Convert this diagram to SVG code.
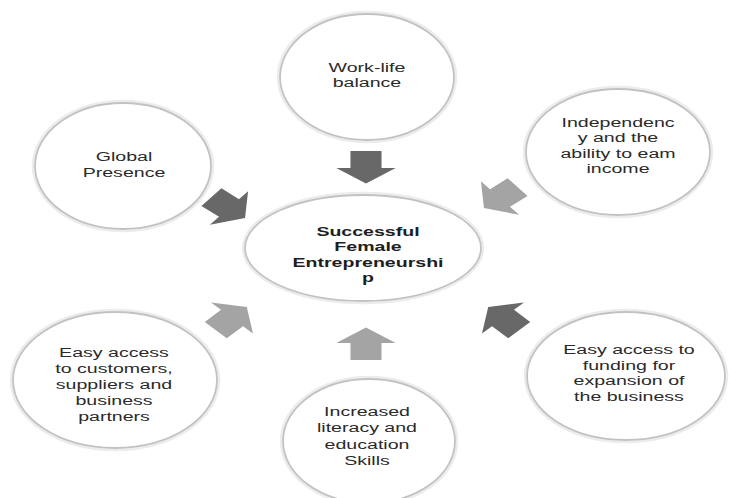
<svg xmlns="http://www.w3.org/2000/svg" width="729" height="498" viewBox="0 0 729 498">
<style>
.halo{fill:none;stroke:#ececec;stroke-width:2.5}
.ring{fill:#fff;stroke:#c2c2c2;stroke-width:1.8}
.t{font-family:"Liberation Sans",Arial,sans-serif;font-size:13.5px;fill:#2a2a2a;text-anchor:middle}
.b{font-weight:bold;fill:#1e1e1e}
.dark{fill:#686868}
.light{fill:#a4a4a4}
</style>
<defs>
<path id="arr" d="M-17,-11.5 L0,-11.5 L0,-22 L15.5,0 L0,22 L0,11.5 L-17,11.5 Z"/>
</defs>
<rect width="729" height="498" fill="#fff"/>
<g id="connectors">
<use href="#arr" class="dark" transform="translate(366,168) scale(1.35,1) rotate(90)"/>
<use href="#arr" class="light" transform="translate(366,343) scale(1.35,1) rotate(-90)"/>
<use href="#arr" class="dark" transform="translate(229,208) scale(1.35,1) rotate(40)"/>
<use href="#arr" class="light" transform="translate(500,198) scale(1.35,1) rotate(140)"/>
<use href="#arr" class="light" transform="translate(232,318) scale(1.35,1) rotate(-45)"/>
<use href="#arr" class="dark" transform="translate(503,318) scale(1.35,1) rotate(-135)"/>
</g>
<g id="center">
<ellipse class="halo" cx="363" cy="248" rx="120" ry="55"/>
<ellipse class="ring" cx="363" cy="248" rx="118" ry="53"/>
<g transform="translate(368,0) scale(1.45,1)">
<text class="t b" x="0" y="236">Successful</text>
<text class="t b" x="0" y="251.5">Female</text>
<text class="t b" x="0" y="267">Entrepreneurshi</text>
<text class="t b" x="0" y="282.5">p</text>
</g>
</g>
<g id="worklife">
<ellipse class="halo" cx="367" cy="77" rx="89" ry="65"/>
<ellipse class="ring" cx="367" cy="77" rx="87" ry="63"/>
<g transform="translate(367,0) scale(1.45,1)">
<text class="t" x="0" y="72">Work-life</text>
<text class="t" x="0" y="87.5">balance</text>
</g>
</g>
<g id="independency">
<ellipse class="halo" cx="618" cy="152" rx="94" ry="65"/>
<ellipse class="ring" cx="618" cy="152" rx="92" ry="63"/>
<g transform="translate(618,0) scale(1.45,1)">
<text class="t" x="0" y="127">Independenc</text>
<text class="t" x="0" y="142.5">y and the</text>
<text class="t" x="0" y="158">ability to eam</text>
<text class="t" x="0" y="173.5">income</text>
</g>
</g>
<g id="global">
<ellipse class="halo" cx="123" cy="166" rx="90" ry="65"/>
<ellipse class="ring" cx="123" cy="166" rx="88" ry="63"/>
<g transform="translate(124,0) scale(1.45,1)">
<text class="t" x="0" y="161.5">Global</text>
<text class="t" x="0" y="177">Presence</text>
</g>
</g>
<g id="customers">
<ellipse class="halo" cx="115" cy="380" rx="104" ry="70"/>
<ellipse class="ring" cx="115" cy="380" rx="102" ry="68"/>
<g transform="translate(114,0) scale(1.45,1)">
<text class="t" x="0" y="357">Easy access</text>
<text class="t" x="0" y="373">to customers,</text>
<text class="t" x="0" y="389">suppliers and</text>
<text class="t" x="0" y="405">business</text>
<text class="t" x="0" y="421">partners</text>
</g>
</g>
<g id="funding">
<ellipse class="halo" cx="626" cy="376" rx="101" ry="66"/>
<ellipse class="ring" cx="626" cy="376" rx="99" ry="64"/>
<g transform="translate(629,0) scale(1.45,1)">
<text class="t" x="0" y="354.5">Easy access to</text>
<text class="t" x="0" y="370">funding for</text>
<text class="t" x="0" y="385.5">expansion of</text>
<text class="t" x="0" y="401">the business</text>
</g>
</g>
<g id="literacy">
<ellipse class="halo" cx="369" cy="441" rx="88" ry="64"/>
<ellipse class="ring" cx="369" cy="441" rx="86" ry="62"/>
<g transform="translate(367,0) scale(1.45,1)">
<text class="t" x="0" y="416">Increased</text>
<text class="t" x="0" y="432.5">literacy and</text>
<text class="t" x="0" y="449">education</text>
<text class="t" x="0" y="465">Skills</text>
</g>
</g>
</svg>
